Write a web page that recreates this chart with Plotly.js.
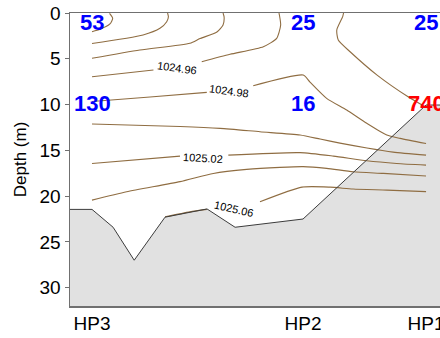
<!DOCTYPE html>
<html>
<head>
<meta charset="utf-8">
<script src="https://cdn.plot.ly/plotly-3.0.1.min.js"></script>
<style>
html, body { margin:0; padding:0; overflow:hidden; background:#fff; }
#chart { width:460px; height:338px; }
</style>
</head>
<body>
<div id="chart"></div>
<script>
// Stations along the section (distance units), and labels
const stationNames = ["HP3", "HP2", "HP1"];
const stationX = [0, 10, 15.83];

// Values shown at each station (surface row and 10 m row)
const surfaceValues = ["53", "25", "25"];
const midValues = ["130", "16", "740"];
const midColors = ["#0000ff", "#0000ff", "#ff0000"];

// Bottom profile (distance, depth m)
const bathyX = [-1.1, 0, 1, 2, 3.46, 5.45, 6.78, 10, 15.83, 17.5];
const bathyDepth = [21.45, 21.45, 23.4, 27.0, 22.3, 21.4, 23.4, 22.5, 10.05, 10.05];

// Isopycnal lines (null = gap for label)
const iso1X = [0.83, 0.98, 0.85, 0.38, 0];
const iso1D = [0.05, 0.58, 1.2, 1.78, 2.04];

const iso2X = [0, 2.42, 3.22, 3.54, 3.62, 3.58];
const iso2D = [3.33, 2.40, 1.67, 0.95, 0.40, 0];

const iso3X = [0, 2.27, 4.64, 5.12, 5.92, 6.21, 6.26, 6.21];
const iso3D = [4.95, 4.04, 3.31, 2.79, 2.08, 1.31, 0.44, 0];

const iso4X = [0, 2.91, null, 5.20, 6.54, 8.12, 8.75, 8.94, 8.88, 8.86];
const iso4D = [6.96, 6.23, null, 5.32, 4.51, 3.68, 2.77, 1.31, 0.22, 0];

const iso5X = [0, 2.75, 5.44, null, 7.64, 10.01, 10.33, 11.12, 12.07, 13.02, 13.97, 14.60, 15.83];
const iso5D = [9.67, 9.18, 8.67, null, 7.95, 6.78, 7.54, 9.32, 10.60, 12.05, 13.33, 13.69, 14.25];

const iso6X = [11.92, 11.88, 11.60, 11.67, 12.23, 13.51, 14.98, 15.83];
const iso6D = [0, 0.40, 1.86, 2.95, 4.23, 6.78, 9.15, 10.3];

const iso7X = [0, 4.17, 6.07, 7.96, 9.86, 10.81, 11.75, 13.03, 14.27, 15.83];
const iso7D = [12.13, 12.40, 12.60, 12.97, 13.33, 13.77, 14.21, 14.75, 15.19, 15.52];

const iso8X = [0, 4.17, null, 6.46, 9.86, 11.44, 13.02, 14.44, 15.83];
const iso8D = [16.43, 15.63, null, 15.52, 15.25, 15.63, 16.14, 16.43, 16.61];

const iso9X = [0, 1.64, 4.17, 5.75, 7.33, 8.91, 10.0, 11.12, 12.38, 13.81, 15.83];
const iso9D = [20.44, 19.53, 18.42, 17.52, 17.08, 16.86, 16.78, 16.97, 17.34, 17.52, 17.81];

const iso10X = [3.46, 4.64, 5.44, null, 7.96, 9.95, 11.28, 12.37, 13.98, 15.83];
const iso10D = [22.26, 21.72, 21.45, null, 20.62, 19.02, 19.02, 19.23, 19.34, 19.51];

// Contour labels
const labelText = ["1024.96", "1024.98", "1025.02", "1025.06"];
const labelX = [4.03, 6.49, 5.26, 6.75];
const labelD = [6.0, 8.52, 15.8, 21.4];
const labelAngle = [8, 8, 3, 13];

const xMin = -1.043, xMax = 16.87, yMax = 32;

const isoColor = "#8f6d42";
const lines = [
  [iso1X, iso1D], [iso2X, iso2D], [iso3X, iso3D], [iso4X, iso4D], [iso5X, iso5D],
  [iso6X, iso6D], [iso7X, iso7D], [iso8X, iso8D], [iso9X, iso9D], [iso10X, iso10D]
];

const traces = [];
// grey bottom fill
traces.push({
  x: bathyX.concat([bathyX[bathyX.length-1], bathyX[0]]),
  y: bathyDepth.concat([yMax + 1, yMax + 1]),
  mode: "lines", fill: "toself", fillcolor: "#e1e1e1",
  line: {width: 0, color: "rgba(0,0,0,0)"}, hoverinfo: "skip", showlegend: false
});
lines.forEach(function (l) {
  traces.push({
    x: l[0], y: l[1], mode: "lines", connectgaps: false,
    line: {color: isoColor, width: 1.1, shape: "spline", smoothing: 0.6},
    hoverinfo: "skip", showlegend: false
  });
});
// bottom outline
traces.push({
  x: bathyX, y: bathyDepth, mode: "lines",
  line: {color: "#3c3c3c", width: 1}, hoverinfo: "skip", showlegend: false
});

const annotations = [];
stationX.forEach(function (sx, i) {
  annotations.push({x: sx, y: 1.0, text: surfaceValues[i], showarrow: false,
    xanchor: "center", yanchor: "middle",
    font: {family: "Arial, Liberation Sans, sans-serif", size: 22, color: "#0000ff", weight: "bold"}});
  annotations.push({x: sx, y: 9.9, text: midValues[i], showarrow: false,
    xanchor: "center", yanchor: "middle",
    font: {family: "Arial, Liberation Sans, sans-serif", size: 22, color: midColors[i], weight: "bold"}});
});
labelText.forEach(function (t, i) {
  annotations.push({x: labelX[i], y: labelD[i], text: t, showarrow: false,
    textangle: labelAngle[i], xanchor: "center", yanchor: "middle",
    font: {family: "Arial, Liberation Sans, sans-serif", size: 11, color: "#000"}});
});

const layout = {
  width: 460, height: 338,
  margin: {l: 70, r: 12, t: 13, b: 32, pad: 0},
  paper_bgcolor: "#fff", plot_bgcolor: "#fff",
  font: {family: "Arial, Liberation Sans, sans-serif", size: 19, color: "#000"},
  xaxis: {
    range: [xMin, xMax], tickmode: "array", tickvals: stationX, ticktext: stationNames,
    showgrid: false, zeroline: false, ticks: "", showline: true, mirror: true,
    linecolor: "#707070", linewidth: 1.5, tickfont: {size: 19}
  },
  yaxis: {
    range: [yMax, 0], tickmode: "array", tickvals: [0, 5, 10, 15, 20, 25, 30],
    showgrid: false, zeroline: false, ticks: "outside", ticklen: 4, tickcolor: "#707070",
    showline: true, mirror: true, linecolor: "#707070", linewidth: 1.5,
    tickfont: {size: 19},
    title: {text: "Depth (m)", font: {size: 17}, standoff: 8}
  },
  annotations: annotations
};

Plotly.newPlot("chart", traces, layout, {staticPlot: true, displayModeBar: false});
</script>
</body>
</html>
